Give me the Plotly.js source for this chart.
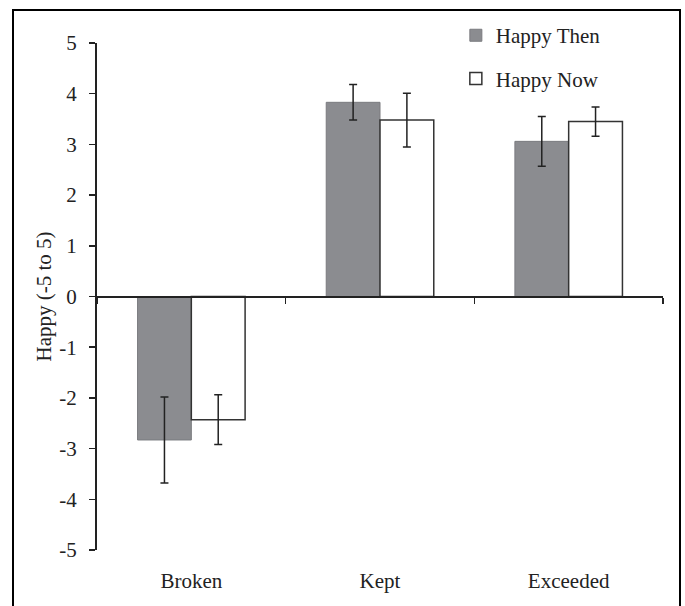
<!DOCTYPE html>
<html>
<head>
<meta charset="utf-8">
<script src="https://cdn.plot.ly/plotly-3.0.1.min.js"></script>
<style>
  html, body { margin: 0; padding: 0; overflow: hidden; background: #fff; }
  #chart { width: 685px; height: 606px; }
  #frame { position: absolute; left: 12px; top: 9px; width: 665px; height: 700px;
           border: 2.5px solid #000; pointer-events: none; box-sizing: content-box; }
</style>
</head>
<body>
<div id="chart"></div>
<div id="frame"></div>
<script>
const categories = ['Broken', 'Kept', 'Exceeded'];
const happyThen = [-2.83, 3.83, 3.06];
const happyThenErr = [0.85, 0.35, 0.49];
const happyNow = [-2.43, 3.48, 3.45];
const happyNowErr = [0.49, 0.53, 0.29];
const yTickVals = [-5, -4, -3, -2, -1, 0, 1, 2, 3, 4, 5];
const yTickText = ['-5', '-4', '-3', '-2', '-1', '0', '1', '2', '3', '4', '5'];

const FONT = 'Liberation Serif';
const INK = '#222';
const BARW = 0.285;

const traces = [
  {
    type: 'bar', name: 'Happy Then', x: categories, y: happyThen,
    xaxis: 'x', yaxis: 'y', width: BARW, offset: -BARW,
    legendgroup: 'a',
    marker: { color: '#8b8c90', line: { color: '#7a7b7f', width: 1 } },
    error_y: { type: 'data', array: happyThenErr, visible: true, color: INK, thickness: 1.5, width: 4 }
  },
  {
    type: 'bar', name: 'Happy Now', x: categories, y: happyNow,
    xaxis: 'x2', yaxis: 'y', width: BARW, offset: 0,
    legendgroup: 'b',
    marker: { color: '#ffffff', line: { color: '#333', width: 1.5 } },
    error_y: { type: 'data', array: happyNowErr, visible: true, color: INK, thickness: 1.5, width: 4 }
  }
];

const layout = {
  width: 685, height: 606,
  margin: { l: 97, r: 22, t: 43, b: 56 },
  paper_bgcolor: '#fff', plot_bgcolor: 'rgba(0,0,0,0)',
  font: { family: FONT, size: 21, color: INK },
  showlegend: true,
  legend: {
    x: 0.634, xanchor: 'left', y: 1.055, yanchor: 'top',
    bgcolor: 'rgba(0,0,0,0)', borderwidth: 0,
    traceorder: 'grouped', tracegroupgap: 13,
    font: { family: FONT, size: 21, color: INK }
  },
  xaxis: {
    type: 'category', categoryorder: 'array', categoryarray: categories,
    range: [-0.5, 2.5], showline: false, ticks: '', showgrid: false, zeroline: false,
    ticklabelstandoff: 16,
    tickfont: { family: FONT, size: 21, color: INK }
  },
  xaxis2: {
    type: 'category', categoryorder: 'array', categoryarray: categories,
    overlaying: 'x', anchor: 'free', position: 0.5,
    range: [-0.5, 2.5], showline: true, linecolor: INK, linewidth: 2,
    ticks: 'outside', tickson: 'boundaries', ticklen: 6, tickwidth: 1.5, tickcolor: INK,
    showticklabels: false, showgrid: false, zeroline: false
  },
  yaxis: {
    range: [-5, 5], tickvals: yTickVals, ticktext: yTickText,
    showline: true, linecolor: INK, linewidth: 2,
    ticks: 'outside', ticklen: 6, tickwidth: 1.5, tickcolor: INK,
    ticklabelstandoff: 8,
    showgrid: false, zeroline: false,
    tickfont: { family: FONT, size: 21, color: INK },
    title: { text: 'Happy (-5 to 5)', font: { family: FONT, size: 21, color: INK }, standoff: 2 }
  },
  bargap: 0.43
};

Plotly.newPlot('chart', traces, layout, { displayModeBar: false, staticPlot: true });
</script>
</body>
</html>
